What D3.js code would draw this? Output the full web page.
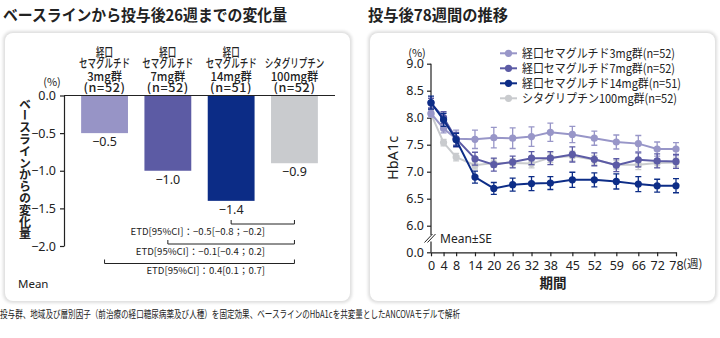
<!DOCTYPE html>
<html lang="ja">
<head>
<meta charset="utf-8">
<script src="https://cdn.jsdelivr.net/npm/d3@7/dist/d3.min.js"></script>
<style>
  html, body { margin: 0; padding: 0; background: #fff; }
  svg { display: block; font-family: "Noto Sans CJK JP", "Noto Sans", sans-serif; }
  .axis text { font-size: 12px; fill: #222; font-family: "Noto Sans", "Noto Sans CJK JP", sans-serif; }
  .axis path, .axis line { stroke: #222; stroke-width: 1.2; }
</style>
</head>
<body>
<svg id="chart" width="720" height="338"></svg>
<script>
// ---- Bar chart: change from baseline at week 26 ----
const barGroups = [
  ["経口", "セマグルチド", "3mg群", "(n=52)"],
  ["経口", "セマグルチド", "7mg群", "(n=52)"],
  ["経口", "セマグルチド", "14mg群", "(n=51)"],
  ["シタグリプチン", "100mg群", "(n=52)"]
];
const barValues = [-0.5, -1.0, -1.4, -0.9];
const barColors = ["#9794c6", "#5c5ba4", "#0c2c86", "#c9cbce"];
const barTicks = [0, -0.5, -1.0, -1.5, -2.0];

// treatment differences vs. sitagliptin (from group index, to group index)
const etdFrom = [2, 1, 0];
const etdTo = [3, 3, 3];
const etdLabels = [
  "ETD[95%CI]：−0.5[−0.8；−0.2]",
  "ETD[95%CI]：−0.1[−0.4；0.2]",
  "ETD[95%CI]：0.4[0.1；0.7]"
];

// ---- Line chart: HbA1c over 78 weeks ----
const weeks = [0, 4, 8, 14, 20, 26, 32, 38, 45, 52, 59, 66, 72, 78];
const seriesNames = [
  "経口セマグルチド3mg群(n=52)",
  "経口セマグルチド7mg群(n=52)",
  "経口セマグルチド14mg群(n=51)",
  "シタグリプチン100mg群(n=52)"
];
const sema3 = [8.08, 7.80, 7.61, 7.60, 7.63, 7.62, 7.65, 7.73, 7.69, 7.62, 7.55, 7.52, 7.42, 7.42];
const sema7 = [8.27, 8.00, 7.61, 7.24, 7.13, 7.18, 7.25, 7.25, 7.32, 7.23, 7.12, 7.22, 7.20, 7.19];
const sema14 = [8.28, 7.96, 7.59, 6.90, 6.69, 6.76, 6.78, 6.79, 6.85, 6.85, 6.82, 6.77, 6.74, 6.74];
const sita = [8.07, 7.54, 7.27, 7.12, 7.16, 7.16, 7.15, 7.26, 7.29, 7.22, 7.13, 7.13, 7.16, 7.17];
const se3 = [0.07, 0.08, 0.16, 0.17, 0.19, 0.19, 0.18, 0.17, 0.15, 0.13, 0.13, 0.15, 0.13, 0.12];
const se7 = [0.09, 0.11, 0.12, 0.12, 0.12, 0.11, 0.12, 0.12, 0.14, 0.12, 0.12, 0.13, 0.13, 0.13];
const se14 = [0.12, 0.12, 0.12, 0.11, 0.11, 0.12, 0.13, 0.12, 0.14, 0.13, 0.14, 0.14, 0.12, 0.13];
const seSita = [0.06, 0.06, 0.07, 0.07, 0.08, 0.08, 0.08, 0.09, 0.09, 0.08, 0.08, 0.09, 0.08, 0.08];
const lineColors = ["#9896c8", "#5c5ba5", "#0d2d87", "#c9cbce"];
const yTicksRight = [0, 6.0, 6.5, 7.0, 7.5, 8.0, 8.5, 9.0];

const footnote = "投与群、地域及び層別因子（前治療の経口糖尿病薬及び人種）を固定効果、ベースラインのHbA1cを共変量としたANCOVAモデルで解析";

const svg = d3.select("#chart");
const fmt = d3.format(".1f");

// soft panel backgrounds
const defs = svg.append("defs");
defs.append("filter").attr("id", "soft").attr("x", "-5%").attr("y", "-5%").attr("width", "110%").attr("height", "110%")
  .append("feGaussianBlur").attr("stdDeviation", 1.6);

function panel(x, y, w, h) {
  svg.append("rect").attr("x", x).attr("y", y).attr("width", w).attr("height", h)
    .attr("rx", 9).attr("fill", "#dedede").attr("filter", "url(#soft)");
  svg.append("rect").attr("x", x + 2).attr("y", y + 2).attr("width", w - 4).attr("height", h - 4)
    .attr("rx", 8).attr("fill", "#fff");
}
panel(3, 31, 349, 272);
panel(368, 31, 349, 272);

// titles
svg.append("text").attr("x", 3).attr("y", 21).attr("font-size", 15.5).attr("font-weight", 700)
  .attr("fill", "#222").attr("textLength", 284).attr("lengthAdjust", "spacingAndGlyphs")
  .text("ベースラインから投与後26週までの変化量");
svg.append("text").attr("x", 368).attr("y", 21).attr("font-size", 15.5).attr("font-weight", 700)
  .attr("fill", "#222").attr("textLength", 140).attr("lengthAdjust", "spacingAndGlyphs")
  .text("投与後78週間の推移");

// ================= left: bars =================
const yL = d3.scaleLinear().domain([0, -2]).range([95.5, 246]);
const xL = d3.scaleBand().domain(d3.range(barValues.length)).range([72.9, 326.1])
  .paddingInner(0.26).paddingOuter(0.13);

const gL = svg.append("g");
gL.selectAll("rect.bar").data(barValues).join("rect").attr("class", "bar")
  .attr("x", (d, i) => xL(i)).attr("width", xL.bandwidth())
  .attr("y", yL(0)).attr("height", d => yL(d) - yL(0))
  .attr("fill", (d, i) => barColors[i]);

gL.append("g").attr("class", "axis").attr("transform", "translate(64,0)")
  .call(d3.axisLeft(yL).tickValues(barTicks).tickFormat(fmt).tickSize(4).tickSizeOuter(0))
  .call(g => g.selectAll("text").attr("dx", -1).style("font-size", "12.5px"));
gL.append("line").attr("x1", 64).attr("x2", 335).attr("y1", yL(0)).attr("y2", yL(0))
  .attr("stroke", "#222").attr("stroke-width", 1.2);

// value labels
gL.selectAll("text.val").data(barValues).join("text").attr("class", "val")
  .attr("x", (d, i) => xL(i) + xL.bandwidth() / 2).attr("y", d => yL(d) + 13)
  .attr("text-anchor", "middle").attr("font-size", 12.5).attr("fill", "#222")
  .attr("font-family", "'Noto Sans', sans-serif").text(d => fmt(d));

// group headers (bottom-aligned above the zero line); kana/kanji lines condensed
const headerBase = [57, 67.5, 81, 91.5];
function headerScale(t) {
  if (t.startsWith("(")) return 1.05;
  if (/[0-9]/.test(t)) return 0.94;
  return 0.71;
}
barGroups.forEach((lines, i) => {
  const off = 4 - lines.length;
  const cx = xL(i) + xL.bandwidth() / 2;
  lines.forEach((t, j) => {
    gL.append("text").attr("transform", `translate(${cx},${headerBase[j + off]}) scale(${headerScale(t)},1)`)
      .attr("text-anchor", "middle").attr("font-size", 12).attr("font-weight", 500)
      .attr("letter-spacing", t.startsWith("(") ? 0.6 : 0)
      .attr("fill", "#222").text(t);
  });
});
gL.append("text").attr("x", 52).attr("y", 86).attr("text-anchor", "middle")
  .attr("font-size", 11).attr("fill", "#222").text("(%)");

// y title, vertical
gL.append("text").attr("x", 25).attr("y", 98).attr("font-size", 12).attr("font-weight", 700)
  .attr("fill", "#222").style("writing-mode", "vertical-rl").attr("letter-spacing", -0.2)
  .text("ベースラインからの変化量");

// ETD brackets
const etdY = [224, 244, 263.5];
etdLabels.forEach((lab, k) => {
  const x1 = xL(etdFrom[k]) + xL.bandwidth() / 2, x2 = xL(etdTo[k]) + xL.bandwidth() / 2;
  const y = etdY[k];
  gL.append("path").attr("d", `M${x1},${y - 4}V${y}H${x2}V${y - 4}`)
    .attr("fill", "none").attr("stroke", "#222").attr("stroke-width", 1);
  gL.append("text").attr("x", 265).attr("y", y + 10.5).attr("text-anchor", "end")
    .attr("font-size", 9.6).attr("fill", "#222").text(lab);
});
gL.append("text").attr("x", 18).attr("y", 288).attr("font-size", 11.5).attr("fill", "#222")
  .attr("font-family", "'Noto Sans', sans-serif").text("Mean");

// ================= right: lines =================
const xR = d3.scaleLinear().domain([0, 78]).range([431, 676]);
const yR = d3.scaleLinear().domain([0, 6, 9]).range([252.3, 225.7, 63.7]);
const gR = svg.append("g");

// y axis with break
const yAx = gR.append("g").attr("class", "axis").attr("transform", "translate(431,0)")
  .call(d3.axisLeft(yR).tickValues(yTicksRight).tickFormat(fmt).tickSize(4).tickSizeOuter(0))
  .call(g => g.selectAll("text").style("font-size", "12.5px"));
yAx.select(".domain").remove();
gR.append("line").attr("x1", 431).attr("x2", 431).attr("y1", yR(9)).attr("y2", 235)
  .attr("stroke", "#222").attr("stroke-width", 1.2);
gR.append("line").attr("x1", 431).attr("x2", 431).attr("y1", 241.5).attr("y2", yR(0))
  .attr("stroke", "#222").attr("stroke-width", 1.2);
[0, 3].forEach(dx => {
  gR.append("line").attr("x1", 424.5 + dx).attr("y1", 242.5).attr("x2", 432.5 + dx).attr("y2", 234)
    .attr("stroke", "#222").attr("stroke-width", 1);
});
gR.append("text").attr("x", 440).attr("y", 243).attr("font-size", 12).attr("fill", "#222")
  .attr("font-family", "'Noto Sans', sans-serif").text("Mean±SE");

// x axis
gR.append("g").attr("class", "axis").attr("transform", `translate(0,${yR(0)})`)
  .call(d3.axisBottom(xR).tickValues(weeks).tickSize(4).tickSizeOuter(0))
  .call(g => g.selectAll("text").attr("dy", "0.85em").style("font-size", "12.5px"));
gR.append("text").attr("x", 683).attr("y", 267.5).attr("font-size", 11.5).attr("fill", "#222").text("(週)");
gR.append("text").attr("x", 553).attr("y", 288).attr("text-anchor", "middle").attr("font-size", 13.5)
  .attr("font-weight", 700).attr("fill", "#222").text("期間");
gR.append("text").attr("x", 417).attr("y", 57).attr("text-anchor", "middle")
  .attr("font-size", 11).attr("fill", "#222").text("(%)");
gR.append("text").attr("transform", "translate(398,158) rotate(-90)").attr("text-anchor", "middle")
  .attr("font-size", 14.5).attr("fill", "#222").attr("font-family", "'Noto Sans', sans-serif").text("HbA1c");

// series (drawn bottom to top)
const series = [
  { v: sita, se: seSita, c: lineColors[3] },
  { v: sema3, se: se3, c: lineColors[0] },
  { v: sema7, se: se7, c: lineColors[1] },
  { v: sema14, se: se14, c: lineColors[2] }
];
const line = d3.line().x((d, i) => xR(weeks[i])).y(d => yR(d));
series.forEach(s => {
  const g = gR.append("g");
  g.append("path").attr("d", line(s.v)).attr("fill", "none").attr("stroke", s.c).attr("stroke-width", 2);
  s.v.forEach((v, i) => {
    const x = xR(weeks[i]), yt = yR(v + s.se[i]), yb = yR(v - s.se[i]);
    g.append("path").attr("d", `M${x},${yt}V${yb}M${x - 3},${yt}H${x + 3}M${x - 3},${yb}H${x + 3}`)
      .attr("stroke", s.c).attr("stroke-width", 1.3).attr("fill", "none");
  });
  g.selectAll("circle").data(s.v).join("circle")
    .attr("cx", (d, i) => xR(weeks[i])).attr("cy", d => yR(d)).attr("r", 3.6).attr("fill", s.c);
});

// legend
const legY = [53.3, 68.3, 83.3, 98.3];
const legW = [153, 153, 159, 155];
seriesNames.forEach((name, i) => {
  const g = gR.append("g").attr("transform", `translate(0,${legY[i]})`);
  g.append("line").attr("x1", 500).attr("x2", 517).attr("stroke", lineColors[i]).attr("stroke-width", 2);
  g.append("circle").attr("cx", 508.5).attr("r", 3.6).attr("fill", lineColors[i]);
  g.append("text").attr("x", 522).attr("y", 4.3).attr("font-size", 12.3).attr("fill", "#222")
    .attr("textLength", legW[i]).attr("lengthAdjust", "spacingAndGlyphs").text(name);
});

// footnote
svg.append("text").attr("x", 0).attr("y", 318).attr("font-size", 10.4).attr("fill", "#222")
  .attr("textLength", 460).attr("lengthAdjust", "spacingAndGlyphs").text(footnote);
</script>
</body>
</html>
